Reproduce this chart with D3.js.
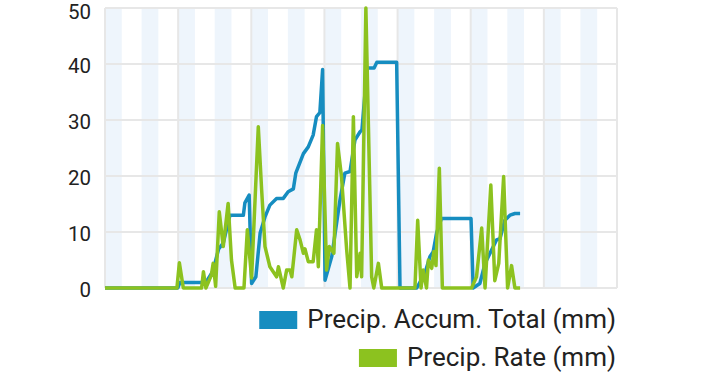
<!DOCTYPE html>
<html>
<head>
<meta charset="utf-8">
<script src="https://cdn.jsdelivr.net/npm/d3@7"></script>
<style>
  html, body { margin: 0; padding: 0; background: #ffffff; }
  svg { display: block; }
</style>
</head>
<body>
<svg id="chart" width="720" height="378"></svg>
<script>
// ---- data (time in hours since start of the displayed window) ----
const yTicks = [0, 10, 20, 30, 40, 50];
const seriesNames = ["Precip. Accum. Total (mm)", "Precip. Rate (mm)"];

const accumHours = [0, 23.9, 24.6, 31.7, 33.1, 35.4, 37.3, 38.8, 41.0, 45.4, 45.9, 47.3, 48.1, 49.5, 50.9, 52.5, 54.1, 56.3, 58.5, 60.1, 61.8, 62.6, 65.1, 66.7, 68.3, 69.4, 70.5, 71.4, 72.2, 74.4, 77.1, 78.7, 80.4, 82.0, 83.7, 84.3, 86.0, 88.3, 89.2, 95.7, 96.8, 102.3, 105.0, 106.6, 107.7, 108.8, 110.4, 120.1, 120.8, 123.0, 124.7, 128.5, 129.6, 131.2, 132.9, 134.5, 136.2];
const accumValues = [0, 0, 1, 1, 1, 3, 7, 8, 13, 13, 15.2, 16.6, 0.8, 2, 9.8, 12.7, 14.8, 16, 16, 17.2, 17.7, 20.5, 24, 25.2, 27.3, 30.6, 31.3, 39, 1.4, 5.6, 15.7, 20.5, 20.8, 26.4, 27.9, 28.2, 39.3, 39.3, 40.3, 40.3, 0, 0, 2.7, 5.6, 6.5, 9.8, 12.4, 12.4, 0, 0.8, 4.4, 8.6, 8.8, 12.1, 13, 13.3, 13.3];

const rateHours = [0, 23.6, 24.4, 25.7, 31.7, 32.3, 33.1, 34.9, 35.5, 36.3, 37.5, 38.8, 40.4, 41.5, 42.7, 45.6, 46.7, 48.1, 50.3, 51.4, 52.5, 54.1, 56.3, 56.9, 58.5, 59.6, 60.7, 61.3, 62.9, 64.0, 65.1, 65.6, 66.7, 68.3, 69.4, 70.0, 71.4, 72.7, 73.6, 75.1, 76.3, 77.6, 79.3, 80.4, 81.5, 82.6, 83.7, 84.2, 85.6, 87.5, 88.2, 89.7, 90.8, 101.7, 102.6, 103.7, 104.4, 105.5, 106.1, 107.2, 107.9, 108.6, 109.7, 110.7, 120.3, 121.9, 123.6, 124.7, 126.6, 127.9, 129.2, 130.8, 132.1, 133.4, 134.5, 136.2];
const rateValues = [0, 0, 4.5, 0, 0, 2.9, 0, 2.3, 4.4, 0.3, 13.6, 7.4, 15.1, 5, 0, 0, 10.4, 1.8, 28.8, 17.5, 7.4, 3.8, 2, 3.8, 0, 3.2, 3.2, 2, 10.4, 8.6, 6.2, 7, 4.7, 4.7, 10.4, 3.8, 29, 3.2, 7.4, 6.2, 25.8, 19.9, 6.8, 0, 30.6, 2, 6.2, 2, 50, 2, 0, 4.4, 0, 0, 12.1, 0, 3.2, 0, 5, 3.5, 6.5, 4, 21.4, 0, 0, 2, 10.7, 0, 18.4, 1.3, 4.4, 19.9, 0, 4, 0, 0];

const windowHours = 168;
const dayHours = 24;
const stripeEvery = 12;
const stripeLen = 5.5;

// ---- layout ----
const svg = d3.select("#chart");
const margin = { left: 105, right: 103, top: 8, bottom: 90 };
const W = 720, H = 378;
const x = d3.scaleLinear().domain([0, windowHours]).range([margin.left, W - margin.right]);
const y = d3.scaleLinear().domain([0, 50]).range([H - margin.bottom, margin.top]);

const blue = "#168dc0";
const green = "#8cc21f";
const gridColor = "#e7e7e7";
const font = "Roboto, 'Noto Sans', sans-serif";

// stripes
const stripeStarts = d3.range(0, windowHours, stripeEvery);
svg.append("g").selectAll("rect").data(stripeStarts).join("rect")
  .attr("x", d => x(d))
  .attr("y", y(50))
  .attr("width", d => x(d + stripeLen) - x(d))
  .attr("height", y(0) - y(50))
  .attr("fill", "#eef5fc");

// horizontal grid
svg.append("g").selectAll("line").data(yTicks).join("line")
  .attr("x1", x(0)).attr("x2", x(windowHours))
  .attr("y1", d => y(d)).attr("y2", d => y(d))
  .attr("stroke", gridColor).attr("stroke-width", 2);

// vertical grid (days)
svg.append("g").selectAll("line").data(d3.range(0, windowHours + 1, dayHours)).join("line")
  .attr("x1", d => x(d)).attr("x2", d => x(d))
  .attr("y1", y(50)).attr("y2", y(0))
  .attr("stroke", gridColor).attr("stroke-width", 2);

// y axis labels
const yAxis = d3.axisLeft(y).tickValues(yTicks).tickSize(0).tickPadding(14).tickFormat(d3.format("d"));
const yg = svg.append("g").attr("transform", `translate(${x(0)},0)`).call(yAxis);
yg.select(".domain").remove();
yg.selectAll("text")
  .attr("font-family", font)
  .attr("font-size", 20.5)
  .attr("fill", "#222")
  .attr("dy", d => d === 50 ? "0.53em" : "0.43em");

// lines
const accumData = accumHours.map((h, i) => ({ h, v: accumValues[i] }));
const rateData = rateHours.map((h, i) => ({ h, v: rateValues[i] }));
const line = d3.line().x(d => x(d.h)).y(d => y(d.v));

svg.append("path").datum(accumData)
  .attr("d", line).attr("fill", "none")
  .attr("stroke", blue).attr("stroke-width", 3.5).attr("stroke-linejoin", "round");
svg.append("path").datum(rateData)
  .attr("d", line).attr("fill", "none")
  .attr("stroke", green).attr("stroke-width", 3.5).attr("stroke-linejoin", "round");

// legend (right aligned)
const legendRight = x(windowHours) - 1;
const legendRows = [
  { name: seriesNames[0], color: blue, baseline: 328 },
  { name: seriesNames[1], color: green, baseline: 366 }
];
legendRows.forEach(r => {
  const t = svg.append("text")
    .attr("x", legendRight)
    .attr("y", r.baseline)
    .attr("text-anchor", "end")
    .attr("font-family", font)
    .attr("font-size", 26)
    .attr("fill", "#222")
    .text(r.name);
  const w = t.node().getComputedTextLength();
  const tx = legendRight - w;
  svg.append("rect")
    .attr("x", tx - 48)
    .attr("y", r.baseline - 17)
    .attr("width", 38)
    .attr("height", 18)
    .attr("fill", r.color);
});
</script>
</body>
</html>
